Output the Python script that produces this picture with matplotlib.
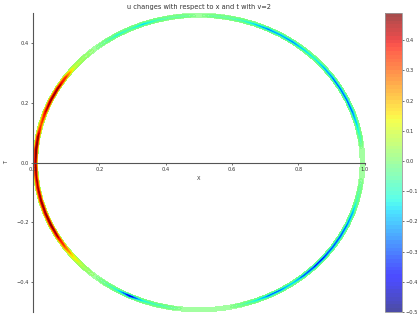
import numpy as np
import matplotlib
matplotlib.use("Agg")
import matplotlib.pyplot as plt

# u read along the ring, angle measured around the centre (0.5, 0)
angulos = [-180, -175, -170, -165, -160, -155, -150, -145, -140, -135, -130, -125,
           -120, -115, -110, -105, -100, -95, -90, -85, -80, -75, -70, -65,
           -60, -55, -50, -45, -40, -35, -30, -25, -20, -15, -10, -5,
           0, 5, 10, 15, 20, 25, 30, 35, 40, 45, 50, 55,
           60, 65, 70, 75, 80, 85, 90, 95, 100, 105, 110, 115,
           120, 125, 130, 135, 140, 145, 150, 155, 160, 165, 170, 175, 180]
u_anillo = [0.45, 0.42, 0.42, 0.45, 0.45, 0.47, 0.42, 0.30, 0.15, 0.05, 0.00, -0.05,
            -0.15, -0.50, -0.15, -0.10, -0.05, 0.00, 0.00, 0.00, 0.00, -0.05, -0.15, -0.30,
            -0.30, -0.20, -0.35, -0.40, -0.40, -0.35, -0.35, -0.30, -0.25, -0.10, -0.05, 0.00,
            0.00, 0.00, -0.10, -0.20, -0.30, -0.30, -0.30, -0.30, -0.25, -0.15, -0.20, -0.30,
            -0.25, -0.30, -0.20, -0.10, -0.05, -0.05, 0.00, -0.05, -0.05, -0.10, -0.20, -0.10,
            -0.15, -0.05, 0.00, 0.03, 0.10, 0.35, 0.45, 0.45, 0.40, 0.30, 0.45, 0.49, 0.45]

# radios de las filas del anillo y peso de u en cada fila
radios = [0.486, 0.489, 0.492, 0.496, 0.5]
perfil = [0.0, 0.7, 1.0, 0.7, 0.0]

th = np.deg2rad(np.array(angulos))
R, TH = np.meshgrid(radios, th)
X = 0.5 + R * np.cos(TH)
T = R * np.sin(TH)
U = np.outer(u_anillo, perfil)

niveles = np.linspace(-0.5, 0.49, 80)

fig = plt.figure(figsize=(4.17, 3.2), dpi=100)
ax = fig.add_axes([0.079, 0.025, 0.796, 0.934])
cax = fig.add_axes([0.923, 0.025, 0.040, 0.934])

cf = ax.contourf(X, T, U, levels=niveles, cmap="jet", alpha=0.7)
ax.contour(X, T, U, levels=niveles[::8], cmap="jet", linewidths=0.3, alpha=0.8)

ax.set_xlim(0, 1)
ax.set_ylim(-0.5, 0.5)
ax.spines["left"].set_position(("data", 0))
ax.spines["bottom"].set_position(("data", 0))
ax.spines["top"].set_visible(False)
ax.spines["right"].set_visible(False)
for s in ["left", "bottom"]:
    ax.spines[s].set_color("#555555")
ax.set_xticks([0, 0.2, 0.4, 0.6, 0.8, 1.0])
ax.set_yticks([-0.4, -0.2, 0.0, 0.2, 0.4])
ax.tick_params(labelsize=3.7, colors="#333333", length=1.5, width=0.5, pad=1.5)
ax.set_xlabel("X", fontsize=3.7, color="#333333", labelpad=3)
ax.set_ylabel("T", fontsize=3.7, color="#333333", labelpad=5)
ax.set_title("u changes with respect to x and t with v=2", fontsize=4.8, color="#333333", pad=3)

cb = fig.colorbar(cf, cax=cax, ticks=[-0.5, -0.4, -0.3, -0.2, -0.1, 0.0, 0.1, 0.2, 0.3, 0.4])
cb.ax.tick_params(labelsize=3.7, colors="#333333", length=1.5, width=0.5, pad=1.5)
cb.outline.set_edgecolor("#999999")
cb.outline.set_linewidth(0.6)

plt.savefig("out.png", dpi=100)
